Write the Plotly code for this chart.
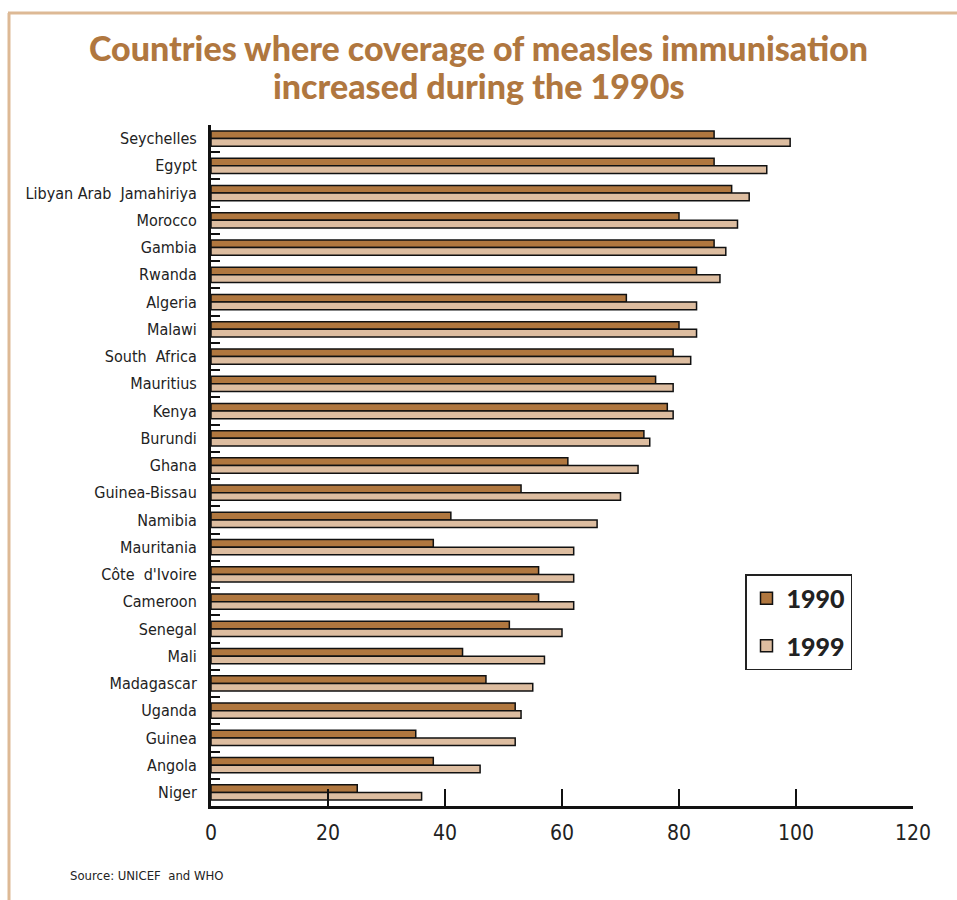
import plotly.graph_objects as go

countries = ["Seychelles", "Egypt", "Libyan Arab  Jamahiriya", "Morocco", "Gambia", "Rwanda",
             "Algeria", "Malawi", "South  Africa", "Mauritius", "Kenya", "Burundi", "Ghana",
             "Guinea-Bissau", "Namibia", "Mauritania", "Côte  d'Ivoire", "Cameroon", "Senegal",
             "Mali", "Madagascar", "Uganda", "Guinea", "Angola", "Niger"]
cov_1990 = [86, 86, 89, 80, 86, 83, 71, 80, 79, 76, 78, 74, 61, 53, 41, 38, 56, 56, 51,
            43, 47, 52, 35, 38, 25]
cov_1999 = [99, 95, 92, 90, 88, 87, 83, 83, 82, 79, 79, 75, 73, 70, 66, 62, 62, 62, 60,
            57, 55, 53, 52, 46, 36]
x_ticks = [0, 20, 40, 60, 80, 100, 120]
title_lines = ["Countries where coverage of measles immunisation", "increased during the 1990s"]

C1990 = "#B0773F"
C1999 = "#DDBDA0"
TITLE_C = "#B0773F"
BORDER_C = "#DDB995"
NARROW = "DejaVu Sans Condensed, Liberation Sans Narrow, sans-serif"

fig = go.Figure()
fig.add_trace(go.Bar(y=countries, x=cov_1990, orientation="h", name="1990", legendgroup="a",
                     marker=dict(color=C1990, line=dict(color="#111", width=1.5))))
fig.add_trace(go.Bar(y=countries, x=cov_1999, orientation="h", name="1999", legendgroup="b",
                     marker=dict(color=C1999, line=dict(color="#111", width=1.5))))

L, R, T, B = 211, 44, 125, 94
W, H = 957, 900
pw, ph = W - L - R, H - T - B

title_font = dict(family="Lato, sans-serif", size=34, color=TITLE_C, weight=900)
annotations = [
    dict(text=title_lines[0], xref="paper", yref="paper", x=(W / 2 - L) / pw, y=1 + (T - 47) / ph,
         xanchor="center", yanchor="middle", showarrow=False, font=title_font),
    dict(text=title_lines[1], xref="paper", yref="paper", x=(W / 2 - L) / pw, y=1 + (T - 85) / ph,
         xanchor="center", yanchor="middle", showarrow=False, font=title_font),
    dict(text="Source: UNICEF  and WHO", xref="paper", yref="paper",
         x=(68 - L) / pw, y=-(876 - 806) / ph, xanchor="left", yanchor="middle",
         showarrow=False, font=dict(family=NARROW, size=13, color="#222")),
]

fig.update_layout(
    width=W, height=H,
    margin=dict(l=L, r=R, t=T, b=B, pad=0),
    paper_bgcolor="white", plot_bgcolor="white",
    barmode="group", bargap=0.44, bargroupgap=0.0,
    showlegend=True,
    legend=dict(x=(745 - L) / pw, y=(806 - 574) / ph, xanchor="left", yanchor="top",
                bgcolor="white", bordercolor="#222", borderwidth=1.5,
                font=dict(family="Lato, sans-serif", size=25, color="#222", weight=900),
                itemwidth=30, tracegroupgap=12),
    xaxis=dict(range=[0, 120], tickvals=x_ticks, ticks="inside", ticklen=17, tickwidth=1.5,
               tickcolor="#111", showgrid=False, zeroline=False, showline=True,
               linecolor="#111", linewidth=3, mirror=False, ticklabelstandoff=6,
               tickfont=dict(family=NARROW, size=21, color="#222")),
    yaxis=dict(autorange="reversed", categoryorder="array", categoryarray=countries,
               ticks="inside", tickson="boundaries", ticklen=9, tickwidth=2, tickcolor="#111",
               showgrid=False, zeroline=False, showline=True, linecolor="#111", linewidth=3,
               ticklabelstandoff=8,
               tickfont=dict(family=NARROW, size=16, color="#222")),
    annotations=annotations,
    shapes=[
        dict(type="line", xref="paper", yref="paper", x0=(9 - L) / pw, x1=(9 - L) / pw,
             y0=1 + (T - 13) / ph, y1=-(H - 806) / ph, line=dict(color=BORDER_C, width=3)),
        dict(type="line", xref="paper", yref="paper", x0=(8 - L) / pw, x1=(W - L) / pw,
             y0=1 + (T - 13) / ph, y1=1 + (T - 13) / ph, line=dict(color=BORDER_C, width=3)),
    ],
)

fig.write_html("out.html")
